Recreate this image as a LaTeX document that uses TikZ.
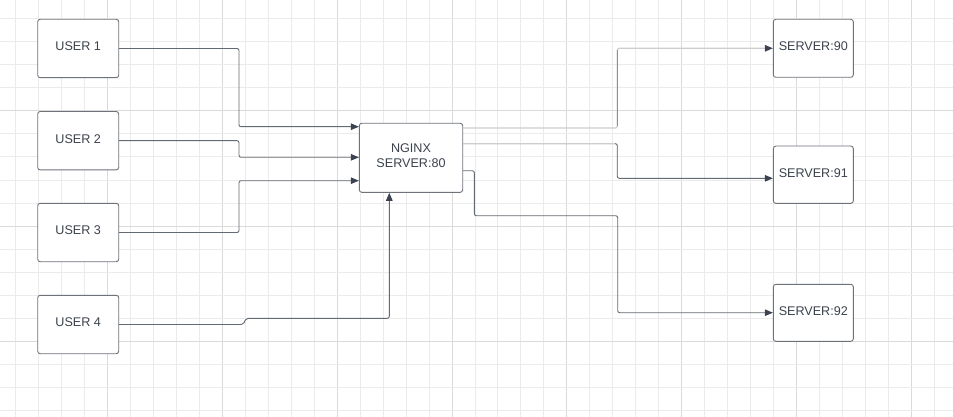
\documentclass[tikz,border=0pt]{standalone}
\usepackage{fontspec}
\setmainfont{Liberation Sans}
\usetikzlibrary{arrows.meta}
\definecolor{gridminor}{HTML}{EBEBEB}
\definecolor{gridmajor}{HTML}{DADADA}
\definecolor{boxline}{HTML}{6E737A}
\definecolor{txt}{HTML}{3C424C}
\definecolor{lineclr}{HTML}{646A73}
\definecolor{lightline}{HTML}{CDCDCD}
\definecolor{midline}{HTML}{8C9096}
\definecolor{tipclr}{HTML}{3C4350}
\tikzset{
  box/.style={draw=boxline, line width=0.9pt, rounded corners=2.5pt, fill=white,
    text=txt, font=\fontsize{12.6}{15.5}\selectfont, align=center, inner sep=0pt,
    text depth=4pt},
  conn/.style={draw=lineclr, line width=0.9pt, rounded corners=2pt,
    -{Triangle[length=8pt,width=6.5pt,color=tipclr]}},
  lconn/.style={conn, draw=lightline, line width=1.2pt},
  seg/.style={line width=1.2pt, rounded corners=2pt},
}
\begin{document}
\begin{tikzpicture}[x=1pt,y=-1pt]
\useasboundingbox (0,0) rectangle (953,417);
\fill[white] (0,0) rectangle (953,417);
% grid
\foreach \k in {0,...,40}{
  \pgfmathsetmacro\xx{15.4+\k*22.98}
  \pgfmathtruncatemacro\m{mod(\k+1,5)}
  \ifnum\m=0
    \draw[gridmajor, line width=1pt] (\xx,0) -- (\xx,417);
  \else
    \draw[gridminor, line width=1pt] (\xx,0) -- (\xx,417);
  \fi
}
\foreach \k in {0,...,18}{
  \pgfmathsetmacro\yy{-4+\k*23}
  \pgfmathtruncatemacro\m{mod(\k,5)}
  \ifnum\m=0
    \draw[gridmajor, line width=1pt] (0,\yy) -- (953,\yy);
  \else
    \draw[gridminor, line width=1pt] (0,\yy) -- (953,\yy);
  \fi
}
% nodes
\node[box, minimum width=81pt, minimum height=58.4pt] (u1) at (78.2,48.5) {USER 1};
\node[box, minimum width=81pt, minimum height=58.4pt] (u2) at (78.2,140.7) {USER 2};
\node[box, minimum width=81pt, minimum height=58.4pt] (u3) at (78.2,232.5) {USER 3};
\node[box, minimum width=81pt, minimum height=58.4pt] (u4) at (78.2,324.5) {USER 4};
\node[box, minimum width=103.4pt, minimum height=69pt] (ng) at (411,157.8) {NGINX\\SERVER:80};
\node[box, minimum width=80pt, minimum height=58pt] (s90) at (813.3,48.3) {SERVER:90};
\node[box, minimum width=80pt, minimum height=57.3pt] (s91) at (813.3,174.7) {SERVER:91};
\node[box, minimum width=80pt, minimum height=57pt] (s92) at (813.3,312.8) {SERVER:92};
% connectors
\coordinate (c1) at (239,126.7);
\coordinate (c2) at (239,157.3);
\coordinate (c3) at (239,180.7);
\draw[conn] (u1.east) -| (c1) -- (ng.west |- c1);
\draw[conn] (u2.east) -| (c2) -- (ng.west |- c2);
\draw[conn] (u3.east) -| (c3) -- (ng.west |- c3);
\draw[conn] (u4.east) -- (243.3,324.5) -- (246,318.3) -- (389.3,318.3) -- (389.3,0 |- ng.south);
\coordinate (k90a) at (617.3,128);
\coordinate (k90b) at (617.3,48.3);
\draw[lconn] (ng.east |- k90a) -- (k90a) -- (k90b) -- (s90.west);
\draw[midline, line width=1pt] (617.3,126) -- (617.3,50.3);
\coordinate (k91a) at (617.3,143.7);
\coordinate (k91b) at (617.3,178.3);
\draw[conn] (ng.east |- k91a) -- (k91a) -- (k91b) -- (s91.west |- k91b);
\draw[seg, lightline] (ng.east |- k91a) -- (615.3,143.7);
\draw[midline, line width=1pt] (617.3,145.7) -- (617.3,176.3);
\draw[conn] (ng.east |- 0,170.7) -- (474.3,170.7) -- (474.3,215.7) -- (617.7,215.7) -- (617.7,312.7) -- (s92.west |- 0,312.7);
\end{tikzpicture}
\end{document}
